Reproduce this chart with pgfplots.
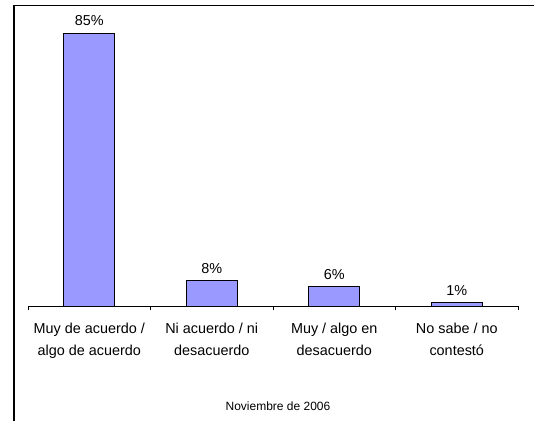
\documentclass[border=0pt]{standalone}
\usepackage{pgfplots}
\pgfplotsset{compat=1.18}
\usepackage{fontspec}
\setmainfont{Liberation Sans}
\definecolor{barfill}{HTML}{9999FF}
\begin{document}
\begin{tikzpicture}
\useasboundingbox (0pt,0pt) rectangle (400.5pt,315.75pt);
\draw[line width=1.3pt] (10.5pt,0pt) -- (10.5pt,311.6pt) -- (400.5pt,311.6pt);
\begin{axis}[
  at={(21pt,86.25pt)}, anchor=south west, scale only axis,
  width=367.5pt, height=216.8pt,
  xmin=-0.5, xmax=3.5, ymin=0, ymax=90,
  axis x line*=bottom, axis y line=none,
  x axis line style={-, line width=0.75pt},
  xtick={0,1,2,3},
  xticklabels={{Muy de acuerdo /\\algo de acuerdo},{Ni acuerdo / ni\\desacuerdo},{Muy / algo en\\desacuerdo},{No sabe / no\\contestó}},
  major tick length=0pt,
  minor xtick={-0.5,0.5,1.5,2.5,3.5},
  minor tick length=3pt,
  tick align=outside,
  tick style={black, line width=0.75pt},
  xticklabel style={align=center, anchor=north, yshift=-9.5pt, font=\fontsize{10.8}{16.5}\selectfont},
  /pgf/number format/assume math mode=true,
  ybar, bar width=38.25pt,
  nodes near coords={\pgfmathprintnumber{\pgfplotspointmeta}\%},
  nodes near coords style={anchor=center, yshift=9pt, font=\fontsize{10.8}{13}\selectfont},
  clip=false,
]
\addplot[fill=barfill, draw=black, line width=0.75pt] coordinates {(0,85) (1,8) (2,6) (3,1)};
\end{axis}
\node at (208.5pt,11.25pt) {\fontsize{9}{11}\selectfont Noviembre de 2006};
\end{tikzpicture}
\end{document}
